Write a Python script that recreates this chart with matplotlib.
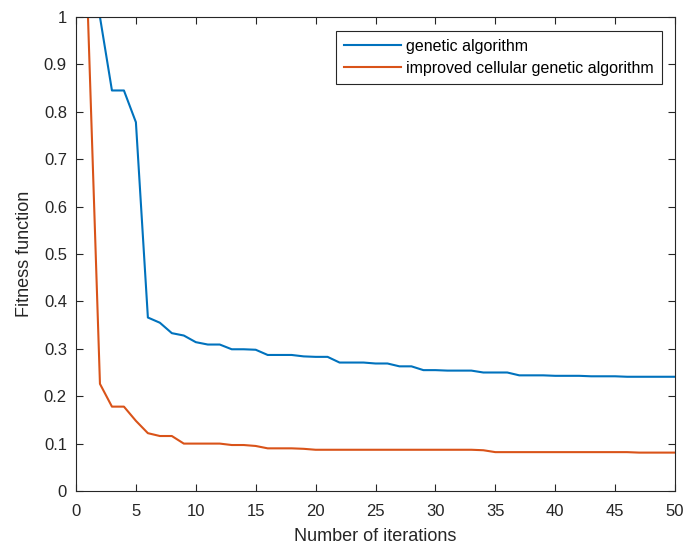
import numpy as np
import matplotlib
matplotlib.use("Agg")
import matplotlib.pyplot as plt

plt.rcParams['font.family'] = ['Liberation Sans', 'DejaVu Sans']

# iterations 1..50
iters = np.arange(1, 51)

# genetic algorithm
ga = [1.000, 1.000, 0.845, 0.845, 0.778, 0.366, 0.355, 0.333, 0.328, 0.314,
      0.309, 0.309, 0.299, 0.299, 0.298, 0.287, 0.287, 0.287, 0.284, 0.283,
      0.283, 0.271, 0.271, 0.271, 0.269, 0.269, 0.263, 0.263, 0.255, 0.255,
      0.254, 0.254, 0.254, 0.250, 0.250, 0.250, 0.244, 0.244, 0.244, 0.243,
      0.243, 0.243, 0.242, 0.242, 0.242, 0.241, 0.241, 0.241, 0.241, 0.241]

# improved cellular genetic algorithm
icga = [1.000, 0.226, 0.178, 0.178, 0.148, 0.122, 0.116, 0.116, 0.100, 0.100,
        0.100, 0.100, 0.097, 0.097, 0.095, 0.090, 0.090, 0.090, 0.089, 0.087,
        0.087, 0.087, 0.087, 0.087, 0.087, 0.087, 0.087, 0.087, 0.087, 0.087,
        0.087, 0.087, 0.087, 0.086, 0.082, 0.082, 0.082, 0.082, 0.082, 0.082,
        0.082, 0.082, 0.082, 0.082, 0.082, 0.082, 0.081, 0.081, 0.081, 0.081]

blue = (0, 0.447, 0.741)
orange = (0.85, 0.325, 0.098)
txt = (0.15, 0.15, 0.15)

fig = plt.figure(figsize=(6.86, 5.46), dpi=100)
ax = fig.add_axes([76/686, 1 - 491/546, (675 - 76)/686, (491 - 17)/546])

ax.plot(iters, ga, color=blue, lw=1.5, label='genetic algorithm')
ax.plot(iters, icga, color=orange, lw=1.5, label='improved cellular genetic algorithm')

ax.set_xlim(0, 50)
ax.set_ylim(0, 1)
ax.set_xticks(np.arange(0, 51, 5))
ax.set_yticks(np.arange(0, 1.01, 0.1))
ax.set_yticklabels(['0', '0.1', '0.2', '0.3', '0.4', '0.5', '0.6', '0.7', '0.8', '0.9', '1'])
ax.tick_params(direction='in', top=True, right=True, labelsize=12, colors=txt,
               length=5, width=0.8)
ax.tick_params(axis='x', pad=9.5)
ax.tick_params(axis='y', pad=6.5)
for s in ax.spines.values():
    s.set_color(txt)
    s.set_linewidth(0.8)

ax.set_xlabel('Number of iterations', fontsize=13, color=txt, labelpad=6)
ax.set_ylabel('Fitness function', fontsize=13, color=txt, labelpad=8)

leg = ax.legend(loc='upper right', bbox_to_anchor=(0.978, 0.971), fontsize=11.5,
                fancybox=False, edgecolor=txt, framealpha=1, handlelength=3.6,
                borderpad=0.5, labelspacing=0.45, handletextpad=0.3,
                borderaxespad=0)
leg.get_frame().set_linewidth(0.8)
for t in leg.get_texts():
    t.set_color('black')

fig.savefig('out.png', dpi=100)
